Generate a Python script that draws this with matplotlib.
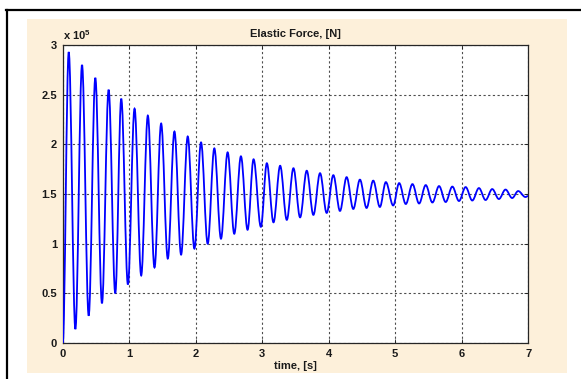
import numpy as np
import matplotlib
matplotlib.use('Agg')
import matplotlib.pyplot as plt
from matplotlib.path import Path
from matplotlib.patches import PathPatch, Rectangle
from matplotlib.lines import Line2D
from matplotlib.ticker import FuncFormatter

# 값은 그림에서 읽음 (단위: 1e5 N)
start_t, start_val = 0.0, 0.0
end_t, end_val = 7.0, 1.48

peak_t = [0.09, 0.29, 0.49, 0.69, 0.88, 1.08, 1.28, 1.48, 1.68, 1.88,
          2.08, 2.28, 2.48, 2.68, 2.87, 3.07, 3.27, 3.47, 3.67, 3.87,
          4.07, 4.27, 4.47, 4.67, 4.86, 5.06, 5.26, 5.46, 5.66, 5.86,
          6.06, 6.26, 6.46, 6.66, 6.85]
peak_val = [2.93, 2.80, 2.67, 2.55, 2.46, 2.36, 2.29, 2.21, 2.13, 2.08,
            2.02, 1.96, 1.92, 1.88, 1.85, 1.81, 1.785, 1.76, 1.735, 1.71,
            1.69, 1.67, 1.645, 1.635, 1.62, 1.61, 1.60, 1.59, 1.58, 1.575,
            1.57, 1.56, 1.55, 1.545, 1.53]

trough_t = [0.19, 0.39, 0.59, 0.79, 0.98, 1.18, 1.38, 1.58, 1.78, 1.98,
            2.18, 2.38, 2.58, 2.78, 2.98, 3.17, 3.37, 3.57, 3.77, 3.97,
            4.17, 4.37, 4.57, 4.77, 4.97, 5.16, 5.36, 5.56, 5.76, 5.96,
            6.16, 6.36, 6.56, 6.76, 6.96]
trough_val = [0.14, 0.275, 0.40, 0.50, 0.59, 0.68, 0.76, 0.85, 0.89, 0.95,
              1.00, 1.05, 1.10, 1.14, 1.17, 1.215, 1.24, 1.265, 1.29, 1.31,
              1.33, 1.35, 1.36, 1.37, 1.385, 1.40, 1.405, 1.415, 1.42, 1.43,
              1.435, 1.44, 1.45, 1.46, 1.47]

x_ticks = [0, 1, 2, 3, 4, 5, 6, 7]
y_ticks = [0, 0.5, 1, 1.5, 2, 2.5, 3]
scale = 1e5

# 극값 순서대로 정렬 (시작점 -> 봉우리/골 -> 끝점)
ext_t = [start_t]
ext_v = [start_val]
for i in range(len(peak_t)):
    ext_t += [peak_t[i], trough_t[i]]
    ext_v += [peak_val[i], trough_val[i]]
ext_t.append(end_t)
ext_v.append(end_val)
ext_v = [v * scale for v in ext_v]

# 극값 사이를 수평 접선 베지어 곡선으로 연결
k = 0.363
verts = [(ext_t[0], ext_v[0])]
codes = [Path.MOVETO]
for i in range(1, len(ext_t)):
    t0, v0 = ext_t[i - 1], ext_v[i - 1]
    t1, v1 = ext_t[i], ext_v[i]
    dt = t1 - t0
    verts += [(t0 + k * dt, v0), (t1 - k * dt, v1), (t1, v1)]
    codes += [Path.CURVE4] * 3

plt.rcParams['font.family'] = ['Liberation Sans', 'DejaVu Sans']
plt.rcParams['mathtext.default'] = 'regular'

fig = plt.figure(figsize=(5.81, 3.79), dpi=100)
fig.patch.set_facecolor('white')

# 바깥 테두리와 베이지 배경
fig.add_artist(Rectangle((0.0465, 0.0158), 0.929, 0.934,
                         transform=fig.transFigure, facecolor='#fdf0da',
                         edgecolor='none', zorder=0))
fig.add_artist(Line2D([0.0105, 1.0], [0.9736, 0.9736], transform=fig.transFigure,
                      color='black', lw=1.6))
fig.add_artist(Line2D([0.0112, 0.0112], [0.0, 0.9736], transform=fig.transFigure,
                      color='black', lw=1.6))

ax = fig.add_axes([0.108, 0.095, 0.801, 0.786])
ax.set_facecolor('white')
ax.add_patch(PathPatch(Path(verts, codes), facecolor='none',
                       edgecolor=(0, 0, 1), lw=1.3, zorder=3))

ax.set_xlim(0, 7)
ax.set_ylim(0, 3 * scale)
ax.set_xticks(x_ticks)
ax.set_yticks([y * scale for y in y_ticks])
ax.yaxis.set_major_formatter(FuncFormatter(lambda v, p: '%g' % (v / scale)))
ax.grid(True, color='0.3', linestyle=(0, (2, 2.2)), lw=0.8)
ax.set_axisbelow(True)
ax.tick_params(direction='in', length=3, top=True, right=True, labelsize=8,
               pad=4, width=0.6, colors='0.1')
for lab in ax.get_xticklabels() + ax.get_yticklabels():
    lab.set_fontweight('bold')
for sp in ax.spines.values():
    sp.set_linewidth(0.9)
    sp.set_color('0.15')

ax.set_title('Elastic Force, [N]', fontsize=8, fontweight='bold', pad=6,
             color='0.1')
ax.set_xlabel('time, [s]', fontsize=8, fontweight='bold', labelpad=2,
              color='0.1')
ax.text(0.0, 1.01, r'x 10$^5$', transform=ax.transAxes, ha='left', va='bottom',
        fontsize=8, fontweight='bold', color='0.1')

fig.savefig('out.png', dpi=100)
